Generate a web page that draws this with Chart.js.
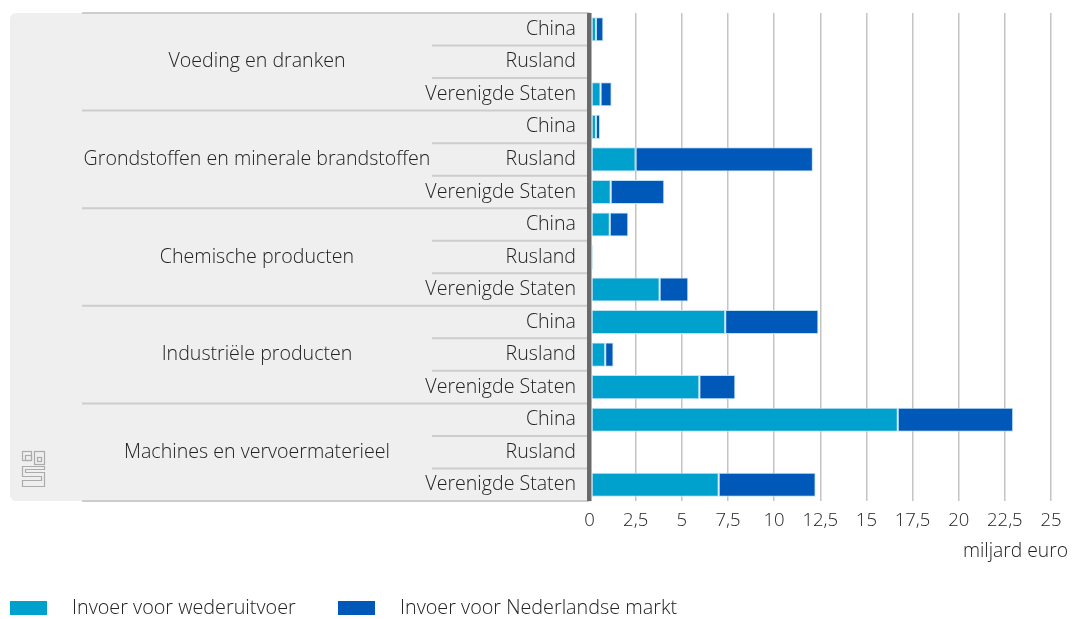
<!DOCTYPE html>
<html>
<head>
<meta charset="utf-8">
<script src="https://cdn.jsdelivr.net/npm/chart.js@4"></script>
<style>
  html, body { margin: 0; padding: 0; background: #fff; }
  #wrap { position: relative; width: 1072px; height: 619px; }
</style>
</head>
<body>
<div id="wrap"><canvas id="chart"></canvas></div>
<script>
// --- data ---
const groups = ['Voeding en dranken', 'Grondstoffen en minerale brandstoffen', 'Chemische producten', 'Industriële producten', 'Machines en vervoermaterieel'];
const countries = ['China', 'Rusland', 'Verenigde Staten'];
const seriesNames = ['Invoer voor wederuitvoer', 'Invoer voor Nederlandse markt'];

// miljard euro, rows: group x country
const wederuitvoer = [0.35, 0, 0.6,  0.35, 2.5, 1.15,  1.1, 0, 3.8,  7.35, 0.85, 5.95,  16.7, 0, 7.0];
const nlMarkt      = [0.4, 0, 0.6,   0.22, 9.6, 2.9,   1.0, 0.18, 1.55,  5.05, 0.45, 1.95,  6.25, 0, 5.25];

const xTicks = [0, 2.5, 5, 7.5, 10, 12.5, 15, 17.5, 20, 22.5, 25];
const axisTitle = 'miljard euro';

const FONT = '"Open Sans", "Noto Sans", sans-serif';
const TEXT = '#222222';
const CYAN = '#00a1cd';
const BLUE = '#0058b8';

const rowLabels = [];
groups.forEach(g => countries.forEach(c => rowLabels.push(g + '|' + c)));

// panel with group / country labels, drawn from the y scale
const panelPlugin = {
    id: 'panel',
    beforeDraw(chart) {
        const { ctx, chartArea } = chart;
        const y = chart.scales.y;
        const left = 10, right = chartArea.left;
        const top = chartArea.top, bottom = chartArea.bottom;
        const step = (bottom - top) / rowLabels.length;

        ctx.save();
        ctx.fillStyle = '#efefef';
        ctx.beginPath();
        ctx.roundRect(left, top, right - left, bottom - top, [6, 0, 0, 6]);
        ctx.fill();

        ctx.strokeStyle = '#cdcdcd';
        ctx.lineWidth = 2;
        for (let i = 0; i <= rowLabels.length; i++) {
            const yy = (i === rowLabels.length) ? y.getPixelForValue(i - 1) + step / 2 : y.getPixelForValue(i) - step / 2;
            const x0 = (i % 3 === 0) ? 82 : 432;
            ctx.beginPath();
            ctx.moveTo(x0, yy);
            ctx.lineTo(right, yy);
            ctx.stroke();
        }

        ctx.fillStyle = TEXT;
        ctx.font = '300 19.6px ' + FONT;
        ctx.textBaseline = 'middle';
        ctx.textAlign = 'right';
        rowLabels.forEach((lab, i) => {
            ctx.fillText(lab.split('|')[1], 576, y.getPixelForValue(i));
        });
        ctx.textAlign = 'center';
        groups.forEach((g, gi) => {
            ctx.fillText(g, 257, y.getPixelForValue(gi * 3 + 1));
        });

        // cbs logo
        ctx.strokeStyle = '#ababab';
        ctx.lineWidth = 1.2;
        ctx.strokeRect(22.5, 451.5, 9, 9);
        ctx.strokeRect(25.5, 455.5, 6, 5);
        ctx.strokeRect(34.5, 451.5, 10, 13);
        ctx.strokeRect(37.5, 457.5, 4, 4);
        ctx.beginPath();
        ctx.moveTo(44.5, 466.5); ctx.lineTo(22.5, 466.5); ctx.lineTo(22.5, 476.5);
        ctx.lineTo(41.5, 476.5); ctx.lineTo(41.5, 480.5); ctx.lineTo(22.5, 480.5);
        ctx.lineTo(22.5, 486.5); ctx.lineTo(44.5, 486.5); ctx.lineTo(44.5, 472.5);
        ctx.lineTo(25.5, 472.5); ctx.lineTo(25.5, 469.5); ctx.lineTo(44.5, 469.5); ctx.closePath();
        ctx.stroke();
        ctx.restore();
    },
    afterDraw(chart) {
        const { ctx } = chart;
        ctx.save();
        ctx.fillStyle = TEXT;
        ctx.font = '300 19.3px ' + FONT;
        ctx.textBaseline = 'middle';
        ctx.textAlign = 'right';
        ctx.fillText(axisTitle, 1068, 552);

        // legend
        ctx.font = '300 19.8px ' + FONT;
        ctx.textAlign = 'left';
        const items = [[10, 72], [338, 400]];
        chart.data.datasets.forEach((ds, i) => {
            ctx.fillStyle = ds.backgroundColor;
            ctx.fillRect(items[i][0], 601, 37, 14);
            ctx.fillStyle = TEXT;
            ctx.fillText(ds.label, items[i][1], 608);
        });
        ctx.restore();
    }
};

new Chart(document.getElementById('chart'), {
    type: 'bar',
    data: {
        labels: rowLabels,
        datasets: [
            { label: seriesNames[0], data: wederuitvoer, backgroundColor: CYAN, borderColor: '#bfe2f3', borderWidth: 1, borderSkipped: false },
            { label: seriesNames[1], data: nlMarkt, backgroundColor: BLUE, borderColor: '#bfe2f3', borderWidth: 1, borderSkipped: false }
        ]
    },
    options: {
        indexAxis: 'y',
        responsive: true,
        maintainAspectRatio: false,
        animation: false,
        barPercentage: 0.74,
        categoryPercentage: 1,
        layout: { padding: { left: 589.5, right: 21, top: 13, bottom: 78 } },
        scales: {
            x: {
                stacked: true,
                min: 0, max: 25,
                afterBuildTicks: axis => { axis.ticks = xTicks.map(v => ({ value: v })); },
                afterFit: axis => { axis.height = 40; },
                grid: {
                    drawTicks: false,
                    color: c => c.tick && c.tick.value === 0 ? '#6a6a6a' : '#c4c4c4',
                    lineWidth: c => c.tick && c.tick.value === 0 ? 4.5 : 1.5
                },
                border: { display: false },
                ticks: {
                    padding: 9,
                    color: TEXT,
                    font: { family: FONT, size: 18.5, weight: '300' },
                    callback: v => String(v).replace('.', ',')
                }
            },
            y: {
                stacked: true,
                display: false
            }
        },
        plugins: {
            legend: { display: false },
            tooltip: { enabled: false }
        }
    },
    plugins: [panelPlugin]
});
</script>
</body>
</html>
